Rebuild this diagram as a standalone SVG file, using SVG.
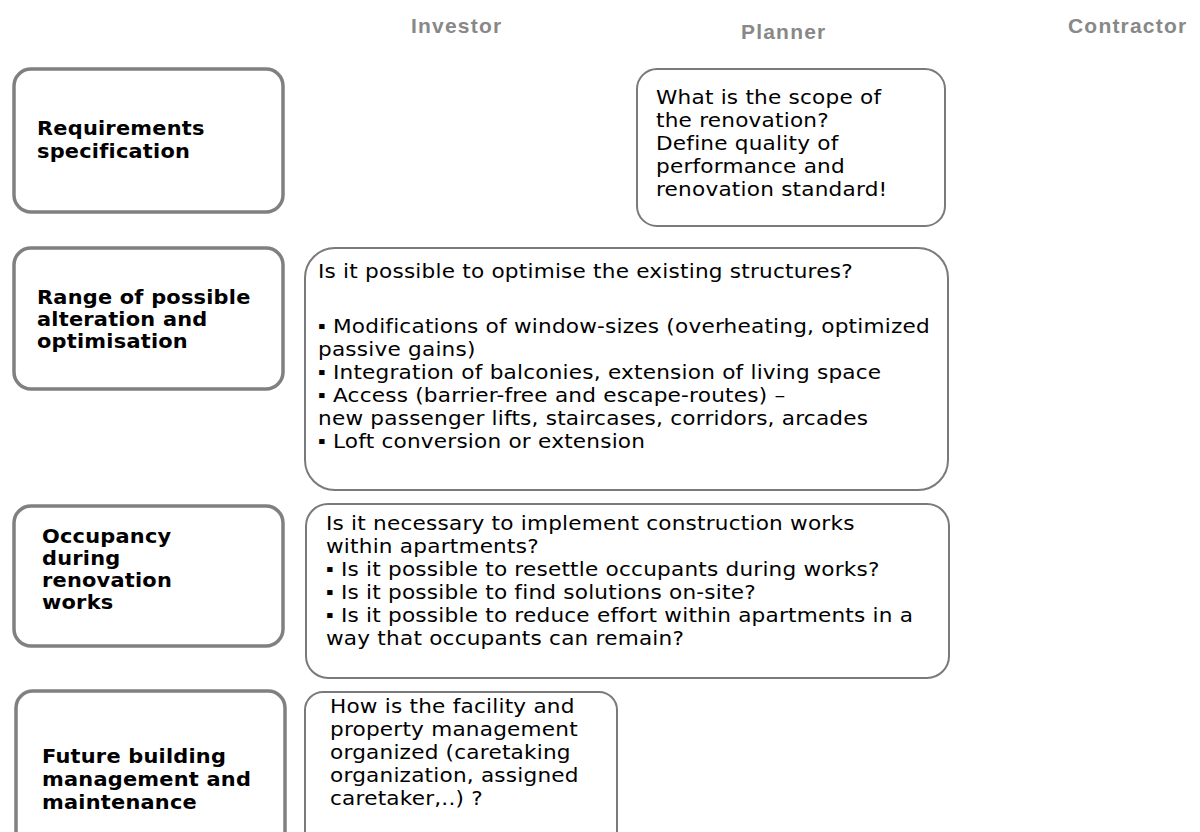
<svg xmlns="http://www.w3.org/2000/svg" width="1200" height="832" viewBox="0 0 1200 832">
<style>
.hdr{font-family:"Liberation Sans",Arial,sans-serif;font-size:21px;font-weight:bold;fill:#888888;letter-spacing:1.2px}
.lbox{fill:#fff;stroke:#808080;stroke-width:3.5}
.rbox{fill:#fff;stroke:#7a7a7a;stroke-width:2}
.lbl{font-family:"DejaVu Sans",Verdana,sans-serif;font-size:19px;font-weight:bold;fill:#000;letter-spacing:0.2px}
.txt{font-family:"DejaVu Sans",Verdana,sans-serif;font-size:20px;fill:#000;letter-spacing:0.2px}
.b{font-family:"Liberation Sans",Arial,sans-serif}
</style>
<g id="headers">
<text class="hdr" x="411" y="33">Investor</text>
<text class="hdr" x="741" y="39">Planner</text>
<text class="hdr" x="1068" y="33">Contractor</text>
</g>
<g id="connectors"></g>
<g id="req-label">
<rect class="lbox" x="14" y="69" width="269" height="143" rx="17"/>
<g transform="translate(37,0) scale(1.1,1)">
<text class="lbl" x="0" y="135">Requirements</text>
<text class="lbl" x="0" y="158">specification</text>
</g>
</g>
<g id="req-planner">
<rect class="rbox" x="637" y="69" width="308" height="157" rx="20"/>
<g transform="translate(656,0) scale(1.08,1)">
<text class="txt" x="0" y="104">What is the scope of</text>
<text class="txt" x="0" y="127">the renovation?</text>
<text class="txt" x="0" y="150">Define quality of</text>
<text class="txt" x="0" y="173">performance and</text>
<text class="txt" x="0" y="196">renovation standard!</text>
</g>
</g>
<g id="range-label">
<rect class="lbox" x="14" y="248" width="269" height="141" rx="17"/>
<g transform="translate(37,0) scale(1.1,1)">
<text class="lbl" x="0" y="304">Range of possible</text>
<text class="lbl" x="0" y="326">alteration and</text>
<text class="lbl" x="0" y="348">optimisation</text>
</g>
</g>
<g id="range-text">
<rect class="rbox" x="305" y="248" width="643" height="242" rx="30"/>
<g transform="translate(318,0) scale(1.08,1)">
<text class="txt" x="0" y="278">Is it possible to optimise the existing structures?</text>
<text class="txt" x="0" y="333"><tspan class="b">▪</tspan> Modifications of window-sizes (overheating, optimized</text>
<text class="txt" x="0" y="356">passive gains)</text>
<text class="txt" x="0" y="379"><tspan class="b">▪</tspan> Integration of balconies, extension of living space</text>
<text class="txt" x="0" y="402"><tspan class="b">▪</tspan> Access (barrier-free and escape-routes) –</text>
<text class="txt" x="0" y="425">new passenger lifts, staircases, corridors, arcades</text>
<text class="txt" x="0" y="448"><tspan class="b">▪</tspan> Loft conversion or extension</text>
</g>
</g>
<g id="occupancy-label">
<rect class="lbox" x="14" y="506" width="269" height="140" rx="17"/>
<g transform="translate(42,0) scale(1.1,1)">
<text class="lbl" x="0" y="543">Occupancy</text>
<text class="lbl" x="0" y="565">during</text>
<text class="lbl" x="0" y="587">renovation</text>
<text class="lbl" x="0" y="609">works</text>
</g>
</g>
<g id="occupancy-text">
<rect class="rbox" x="306" y="504" width="643" height="174" rx="22"/>
<g transform="translate(326,0) scale(1.08,1)">
<text class="txt" x="0" y="530">Is it necessary to implement construction works</text>
<text class="txt" x="0" y="553">within apartments?</text>
<text class="txt" x="0" y="576"><tspan class="b">▪</tspan> Is it possible to resettle occupants during works?</text>
<text class="txt" x="0" y="599"><tspan class="b">▪</tspan> Is it possible to find solutions on-site?</text>
<text class="txt" x="0" y="622"><tspan class="b">▪</tspan> Is it possible to reduce effort within apartments in a</text>
<text class="txt" x="0" y="645">way that occupants can remain?</text>
</g>
</g>
<g id="future-label">
<rect class="lbox" x="16" y="691" width="269" height="160" rx="17"/>
<g transform="translate(42,0) scale(1.1,1)">
<text class="lbl" x="0" y="763">Future building</text>
<text class="lbl" x="0" y="786">management and</text>
<text class="lbl" x="0" y="809">maintenance</text>
</g>
</g>
<g id="future-text">
<rect class="rbox" x="305" y="692" width="312" height="160" rx="18"/>
<g transform="translate(330,0) scale(1.08,1)">
<text class="txt" x="0" y="713">How is the facility and</text>
<text class="txt" x="0" y="736">property management</text>
<text class="txt" x="0" y="759">organized (caretaking</text>
<text class="txt" x="0" y="782">organization, assigned</text>
<text class="txt" x="0" y="805">caretaker,..) ?</text>
</g>
</g>
</svg>
